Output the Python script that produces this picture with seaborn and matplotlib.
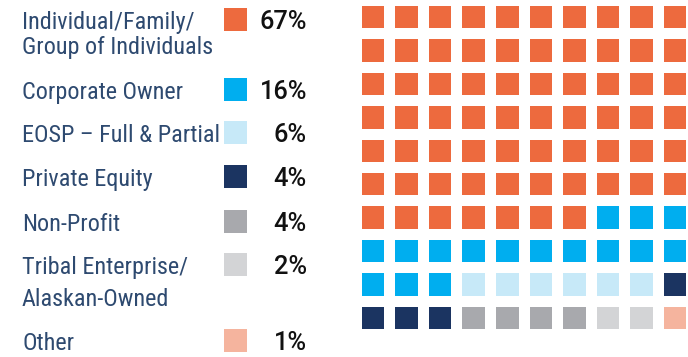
import numpy as np
import pandas as pd
import matplotlib
matplotlib.use("Agg")
import matplotlib.pyplot as plt
from matplotlib.colors import ListedColormap
import seaborn as sns

# Ownership categories and their share of the total (percent)
categories = [
    "Individual/Family/\nGroup of Individuals",
    "Corporate Owner",
    "EOSP \u2013 Full & Partial",
    "Private Equity",
    "Non-Profit",
    "Tribal Enterprise/\nAlaskan-Owned",
    "Other",
]
shares = [67, 16, 6, 4, 4, 2, 1]
colors = ["#ED6A3E", "#00AEEF", "#C7E9F8", "#1B3461", "#A8A9AD", "#D3D4D6", "#F5B49E"]

# Legend layout: baseline of each label's first line and the pitch to its second line (px)
label_baselines = [29, 99, 141.5, 186, 231, 274, 350]
second_line_step = [25, 0, 0, 0, 0, 32.5, 0]

W, H = 688, 357
DPI = 100

sns.set_theme(style="white")
label_font = ["Roboto Condensed", "Barlow", "DejaVu Sans"]
pct_font = ["Roboto", "DejaVu Sans"]
plt.rcParams["font.family"] = label_font

fig = plt.figure(figsize=(W / DPI, H / DPI), dpi=DPI)

# ---- waffle grid: 10 x 10 cells filled row by row -------------------------
grid = np.repeat(np.arange(len(shares)), shares).reshape(10, 10)
waffle = pd.DataFrame(grid)

pitch_x, pitch_y = 33.56, 33.44
gap = 10.5
left = 361 - gap / 2
top = 5 - gap / 2
ax_wd, ax_ht = 10 * pitch_x, 10 * pitch_y
ax = fig.add_axes([left / W, 1 - (top + ax_ht) / H, ax_wd / W, ax_ht / H])
sns.heatmap(
    waffle, ax=ax, cmap=ListedColormap(colors), vmin=-0.5, vmax=len(colors) - 0.5,
    cbar=False, linewidths=gap * 72 / DPI, linecolor="white", square=False,
    xticklabels=False, yticklabels=False,
)
ax.set_axis_off()

# ---- legend: labels, swatches and percentages ------------------------------
lax = fig.add_axes([0, 0, 1, 1])
lax.set_xlim(0, W)
lax.set_ylim(H, 0)
lax.set_axis_off()

label_color = "#2E4A70"
for name, pct, col, yb, step in zip(categories, shares, colors,
                                    label_baselines, second_line_step):
    for i, line in enumerate(name.split("\n")):
        lax.text(22, yb + i * step, line, ha="left", va="baseline", fontsize=17.4,
                 color=label_color, family=label_font, stretch="condensed")
    lax.add_patch(plt.Rectangle((224, yb - 21), 23, 23, color=col, lw=0))
    lax.text(307, yb, f"{pct}%", ha="right", va="baseline", fontsize=18.3,
             color="#111111", family=pct_font, weight="medium")

fig.savefig("out.png", dpi=DPI)
